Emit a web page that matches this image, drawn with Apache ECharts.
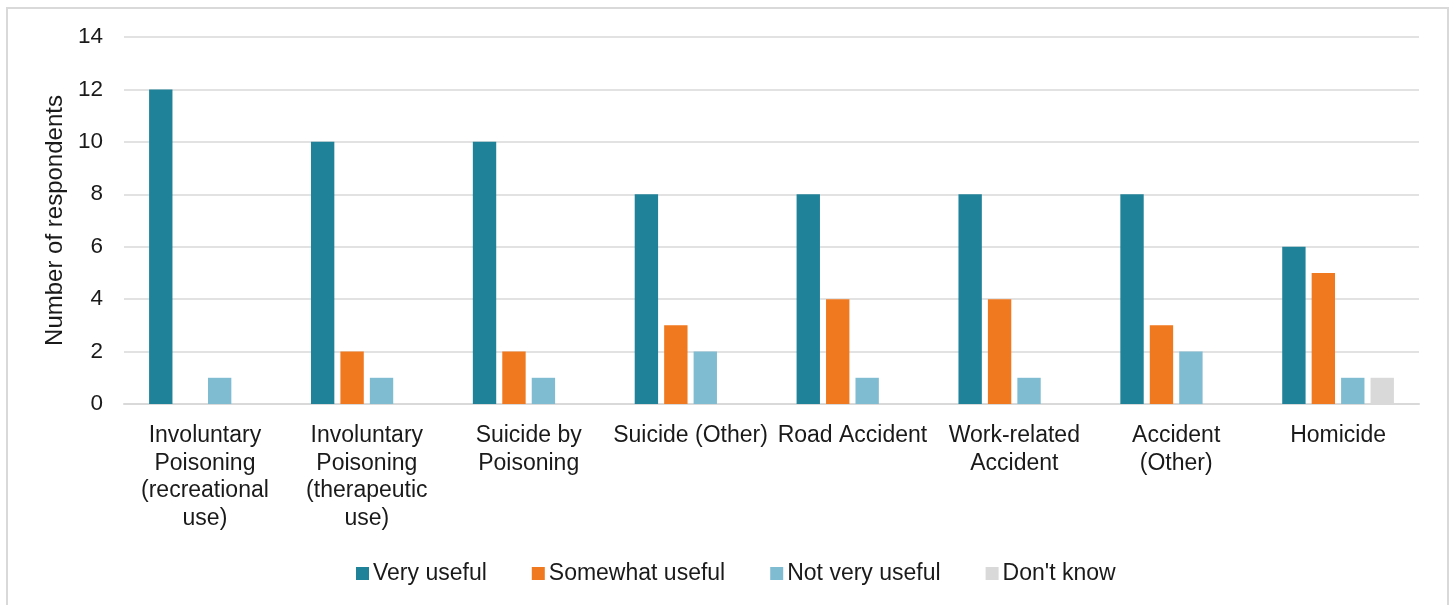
<!DOCTYPE html>
<html>
<head>
<meta charset="utf-8">
<script src="https://cdn.jsdelivr.net/npm/echarts@6/dist/echarts.min.js"></script>
<style>
  html, body { margin: 0; padding: 0; background: #ffffff; }
  #chart { width: 1453px; height: 605px; }
</style>
</head>
<body>
<div id="chart"></div>
<script>
// Causes of death (category axis labels, wrapped as shown)
const categories = [
  'Involuntary\nPoisoning\n(recreational\nuse)',
  'Involuntary\nPoisoning\n(therapeutic\nuse)',
  'Suicide by\nPoisoning',
  'Suicide (Other)',
  'Road Accident',
  'Work-related\nAccident',
  'Accident\n(Other)',
  'Homicide'
];

// Responses per usefulness rating (null = no respondents)
const veryUseful      = [12, 10, 10, 8, 8, 8, 8, 6];
const somewhatUseful  = [null, 2, 2, 3, 4, 4, 3, 5];
const notVeryUseful   = [1, 1, 1, 2, 1, 1, 2, 1];
const dontKnow        = [null, null, null, null, null, null, null, 1];

const seriesNames  = ['Very useful', 'Somewhat useful', 'Not very useful', "Don't know"];
const seriesColors = ['#1f8299', '#f0781e', '#7fbcd2', '#d9d9d9'];
const seriesData   = [veryUseful, somewhatUseful, notVeryUseful, dontKnow];

const yTicks = { min: 0, max: 14, interval: 2 };

const font = 'Liberation Sans, Arial, Helvetica, sans-serif';

const chart = echarts.init(document.getElementById('chart'), null, { renderer: 'canvas' });

chart.setOption({
  animation: false,
  backgroundColor: '#ffffff',
  textStyle: { fontFamily: font, color: '#1a1a1a' },
  graphic: [{
    type: 'rect',
    shape: { x: 7, y: 8, width: 1441, height: 620 },
    style: { fill: 'none', stroke: '#d9d9d9', lineWidth: 2 },
    silent: true
  }],
  grid: { left: 124, right: 34, top: 37, bottom: 201, containLabel: false },
  legend: {
    data: seriesNames,
    top: 557,
    left: 351,
    icon: 'rect',
    itemWidth: 13,
    itemHeight: 13,
    itemGap: 45,
    textStyle: { fontFamily: font, fontSize: 23, color: '#1a1a1a', padding: [0, 0, 0, -1] }
  },
  xAxis: {
    type: 'category',
    data: categories,
    axisLine: { show: true, lineStyle: { color: '#d9d9d9', width: 2 } },
    axisTick: { show: false },
    axisLabel: {
      interval: 0,
      margin: 18,
      fontFamily: font,
      fontSize: 23,
      lineHeight: 27.5,
      color: '#1a1a1a',
      align: 'center'
    }
  },
  yAxis: {
    type: 'value',
    min: yTicks.min,
    max: yTicks.max,
    interval: yTicks.interval,
    name: 'Number of respondents',
    nameLocation: 'middle',
    nameGap: 56,
    nameRotate: 90,
    nameTextStyle: { fontFamily: font, fontSize: 24, color: '#1a1a1a' },
    axisLine: { show: false },
    axisTick: { show: false },
    axisLabel: { margin: 21, fontFamily: font, fontSize: 22.5, color: '#1a1a1a' },
    splitLine: { lineStyle: { color: '#d9d9d9', width: 1.5 } }
  },
  series: seriesNames.map((name, i) => ({
    name: name,
    type: 'bar',
    data: seriesData[i],
    barGap: '26%',
    barCategoryGap: '31%',
    itemStyle: { color: seriesColors[i] }
  }))
});
</script>
</body>
</html>
